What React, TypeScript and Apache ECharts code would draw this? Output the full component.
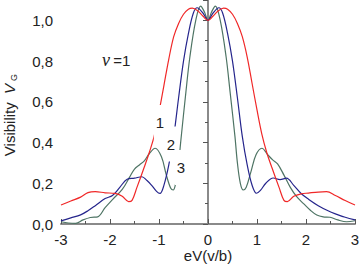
import React, { useEffect, useRef } from "react";
import * as echarts from "echarts";

const xTicks = [-3, -2, -1, 0, 1, 2, 3];
const yTicks = [0, 0.2, 0.4, 0.6, 0.8, 1.0];

const curve1: number[][] = [
  [-3.0, 0.093], [-2.8, 0.113], [-2.6, 0.132], [-2.45, 0.154], [-2.3, 0.159], [-2.1, 0.153],
  [-1.9, 0.15], [-1.75, 0.136], [-1.62, 0.11], [-1.55, 0.116], [-1.45, 0.18], [-1.3, 0.28],
  [-1.2, 0.35], [-1.1, 0.43], [-1.0, 0.55], [-0.9, 0.68], [-0.8, 0.81], [-0.7, 0.92],
  [-0.6, 0.985], [-0.5, 1.03], [-0.4, 1.055], [-0.32, 1.06], [-0.2, 1.045], [-0.1, 1.02],
  [0, 1.0],
  [0.1, 1.02], [0.2, 1.045], [0.32, 1.06], [0.4, 1.055], [0.5, 1.03], [0.6, 0.985],
  [0.7, 0.92], [0.8, 0.82], [0.9, 0.69], [1.0, 0.56], [1.1, 0.44], [1.2, 0.35],
  [1.3, 0.28], [1.45, 0.18], [1.55, 0.116], [1.62, 0.11], [1.75, 0.136], [1.9, 0.148],
  [2.05, 0.152], [2.25, 0.157], [2.42, 0.159], [2.6, 0.14], [2.8, 0.115], [3.0, 0.093],
];

const curve2: number[][] = [
  [-3.0, 0.015], [-2.8, 0.03], [-2.6, 0.045], [-2.45, 0.065], [-2.3, 0.09], [-2.1, 0.125],
  [-1.95, 0.14], [-1.8, 0.18], [-1.65, 0.22], [-1.5, 0.225], [-1.35, 0.232], [-1.25, 0.215],
  [-1.15, 0.19], [-1.05, 0.16], [-0.98, 0.15], [-0.9, 0.19], [-0.8, 0.29], [-0.7, 0.43],
  [-0.6, 0.62], [-0.5, 0.8], [-0.4, 0.935], [-0.3, 1.035], [-0.22, 1.062], [-0.1, 1.035],
  [0, 1.0],
  [0.1, 1.035], [0.22, 1.062], [0.3, 1.035], [0.4, 0.935], [0.5, 0.8], [0.6, 0.62],
  [0.7, 0.43], [0.8, 0.29], [0.9, 0.19], [0.99, 0.151], [1.07, 0.165], [1.18, 0.2],
  [1.33, 0.226], [1.47, 0.218], [1.6, 0.225], [1.75, 0.19], [1.9, 0.15], [2.05, 0.122],
  [2.25, 0.09], [2.45, 0.065], [2.6, 0.05], [2.8, 0.033], [3.0, 0.02],
];

const curve3: number[][] = [
  [-3.0, 0.011], [-2.85, 0.005], [-2.7, 0.003], [-2.55, 0.02], [-2.4, 0.032], [-2.25, 0.035],
  [-2.1, 0.08], [-1.95, 0.12], [-1.75, 0.17], [-1.6, 0.23], [-1.5, 0.27], [-1.4, 0.29],
  [-1.3, 0.31], [-1.2, 0.345], [-1.08, 0.372], [-0.95, 0.33], [-0.85, 0.24], [-0.76, 0.175],
  [-0.71, 0.167], [-0.66, 0.2], [-0.6, 0.3], [-0.55, 0.42], [-0.45, 0.65], [-0.37, 0.82],
  [-0.25, 1.0], [-0.15, 1.07], [-0.07, 1.04], [0, 1.0],
  [0.07, 1.04], [0.15, 1.07], [0.25, 1.0], [0.37, 0.82], [0.45, 0.65], [0.55, 0.43],
  [0.6, 0.3], [0.66, 0.2], [0.72, 0.167], [0.78, 0.18], [0.88, 0.26], [0.98, 0.34],
  [1.1, 0.372], [1.22, 0.34], [1.32, 0.315], [1.42, 0.295], [1.55, 0.24], [1.68, 0.18],
  [1.81, 0.134], [1.95, 0.1], [2.1, 0.065], [2.22, 0.044], [2.35, 0.035], [2.49, 0.033],
  [2.65, 0.02], [2.83, 0.011], [3.0, 0.016],
];

const seriesNames = ["1", "2", "3"];
const seriesColors = ["#f02828", "#25258c", "#4e7464"];

const FONT = "Liberation Sans, Arial, sans-serif";

export default function App() {
  const ref = useRef<HTMLDivElement>(null);
  useEffect(() => {
    document.body.style.margin = "0";
    if (!ref.current) return;
    const chart = echarts.init(ref.current, undefined, { renderer: "svg" });
    const fmt = (v: number) => {
      const ok = yTicks.some((t) => Math.abs(t - v) < 1e-6);
      return ok ? v.toFixed(1).replace(".", ",") : "";
    };
    const axisLine = { show: true, lineStyle: { color: "#8a8a8a", width: 2 } };
    chart.setOption({
      animation: false,
      backgroundColor: "#ffffff",
      grid: { left: 61, right: 5, top: 0, bottom: 43, containLabel: false, outerBoundsMode: "none" },
      xAxis: {
        type: "value",
        min: xTicks[0],
        max: xTicks[xTicks.length - 1],
        interval: 1,
        axisLine,
        axisTick: { show: true, inside: true, length: 5, lineStyle: { color: "#555", width: 1 } },
        minorTick: { show: true, splitNumber: 2, length: 3, lineStyle: { color: "#555" } },
        splitLine: { show: false },
        axisLabel: { fontSize: 15, color: "#222", fontFamily: FONT, margin: 8 },
      },
      yAxis: {
        type: "value",
        min: 0,
        max: 1.1,
        interval: 0.2,
        axisLine,
        axisTick: { show: true, length: 5, lineStyle: { color: "#555", width: 1 } },
        minorTick: { show: true, splitNumber: 2, length: 3, lineStyle: { color: "#555" } },
        splitLine: { show: false },
        axisLabel: { fontSize: 15, color: "#222", fontFamily: FONT, margin: 8, formatter: fmt, showMaxLabel: false },
      },
      series: [curve1, curve2, curve3].map((d, i) => ({
        name: seriesNames[i],
        type: "line",
        data: d,
        smooth: 0.35,
        symbol: "none",
        lineStyle: { color: seriesColors[i], width: 1.2 },
        z: 2 + (2 - i),
      })),
      graphic: [
        {
          type: "text",
          x: 160, y: 122.5, z: 100,
          style: { text: "1", font: `15px ${FONT}`, fill: "#222", align: "center", verticalAlign: "middle", backgroundColor: "#fff", padding: [10, 2] },
        },
        {
          type: "text",
          x: 171, y: 144, z: 100,
          style: { text: "2", font: `15px ${FONT}`, fill: "#222", align: "center", verticalAlign: "middle", backgroundColor: "#fff", padding: [10, 2] },
        },
        {
          type: "text",
          x: 181, y: 167.5, z: 100,
          style: { text: "3", font: `15px ${FONT}`, fill: "#222", align: "center", verticalAlign: "middle", backgroundColor: "#fff", padding: [10, 2] },
        },
        {
          type: "text",
          x: 102, y: 60, z: 100,
          style: {
            text: "{n|ν} {e|=1}",
            align: "left",
            verticalAlign: "middle",
            rich: {
              n: { fontSize: 18, fontStyle: "italic", fontFamily: "Liberation Serif, serif", fill: "#222" },
              e: { fontSize: 15, fontFamily: FONT, fill: "#222" },
            },
          },
        },
        {
          type: "text",
          x: 9, y: 115, rotation: Math.PI / 2, z: 100,
          style: {
            text: "{t|Visibility  }{v|V}{s|G}",
            align: "center",
            verticalAlign: "middle",
            rich: {
              t: { fontSize: 15, fontFamily: FONT, fill: "#222" },
              v: { fontSize: 15, fontFamily: FONT, fontStyle: "italic", fill: "#222" },
              s: { fontSize: 9, fontFamily: FONT, fill: "#222", padding: [9, 0, 0, 3] },
            },
          },
        },
        {
          type: "text",
          x: 208, y: 255, z: 100,
          style: { text: "eV(v/b)", font: `15px ${FONT}`, fill: "#222", align: "center", verticalAlign: "middle" },
        },
      ],
    });
    return () => chart.dispose();
  }, []);
  return <div ref={ref} style={{ width: 360, height: 267 }} />;
}
